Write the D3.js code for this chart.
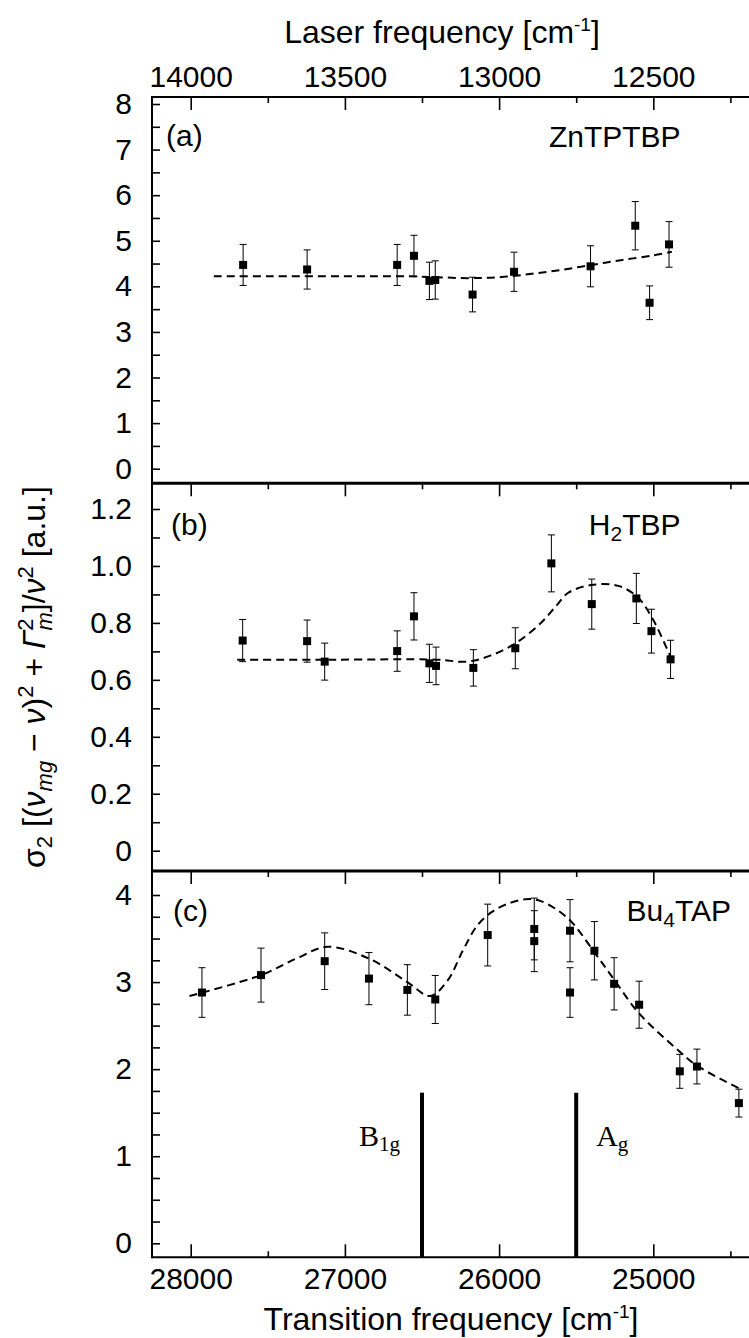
<!DOCTYPE html>
<html><head><meta charset="utf-8">
<script src="https://cdn.jsdelivr.net/npm/d3@7"></script>
<style>html,body{margin:0;padding:0;background:#fff}svg{display:block}</style>
</head><body>
<script>
// ---------------- data ----------------
const transTicks = [28000, 27000, 26000, 25000];
const transMinor = [27500, 26500, 25500, 24500];
const laserTicks = [14000, 13500, 13000, 12500];

// panel (a) ZnTPTBP
const aFreq = [27660, 27245, 26661, 26552, 26452, 26414, 26172, 25903, 25407, 25117, 25024, 24898];
const aVal  = [4.47, 4.37, 4.47, 4.67, 4.12, 4.14, 3.82, 4.32, 4.44, 5.33, 3.64, 4.92];
const aErr  = [0.45, 0.43, 0.45, 0.45, 0.41, 0.42, 0.38, 0.43, 0.45, 0.53, 0.37, 0.50];
const aFitFreq = [27850, 27500, 27000, 26600, 26400, 26200, 26000, 25800, 25600, 25400, 25200, 25000, 24880];
const aFitVal  = [4.22, 4.22, 4.22, 4.22, 4.20, 4.18, 4.20, 4.27, 4.36, 4.47, 4.58, 4.68, 4.76];
const aTicks = [0, 1, 2, 3, 4, 5, 6, 7, 8];
const aMinor = [0.5, 1.5, 2.5, 3.5, 4.5, 5.5, 6.5, 7.5];

// panel (b) H2TBP
const bFreq = [27663, 27245, 27131, 26661, 26552, 26452, 26409, 26167, 25895, 25661, 25399, 25110, 25012, 24888];
const bVal  = [0.738, 0.736, 0.664, 0.701, 0.823, 0.658, 0.649, 0.642, 0.711, 1.009, 0.866, 0.886, 0.771, 0.672];
const bErr  = [0.074, 0.074, 0.065, 0.071, 0.083, 0.067, 0.066, 0.064, 0.072, 0.100, 0.088, 0.088, 0.077, 0.067];
const bFitFreq = [27698, 27064, 26409, 26207, 26057, 25895, 25729, 25629, 25554, 25403, 25227, 25101, 25000, 24888];
const bFitVal  = [0.671, 0.671, 0.671, 0.664, 0.685, 0.728, 0.800, 0.860, 0.905, 0.933, 0.930, 0.890, 0.810, 0.680];
const bTicks = [0, 0.2, 0.4, 0.6, 0.8, 1.0, 1.2];
const bMinor = [0.1, 0.3, 0.5, 0.7, 0.9, 1.1];

// panel (c) Bu4TAP
const cFreq = [27927, 27544, 27131, 26844, 26595, 26414, 26074, 25772, 25772, 25540, 25540, 25382, 25254, 25092, 24828, 24717, 24445];
const cVal  = [2.88, 3.08, 3.24, 3.04, 2.91, 2.80, 3.54, 3.61, 3.47, 3.59, 2.88, 3.36, 2.98, 2.74, 1.975, 2.03, 1.61];
const cErr  = [0.285, 0.31, 0.325, 0.30, 0.29, 0.276, 0.355, 0.355, 0.35, 0.357, 0.285, 0.335, 0.30, 0.27, 0.195, 0.20, 0.16];
const cFitFreq = [28008, 27544, 27315, 27114, 26844, 26595, 26447, 26333, 26233, 26132, 26006, 25830, 25729, 25553, 25377, 25251, 25092, 24828, 24717, 24445];
const cFitVal  = [2.84, 3.08, 3.27, 3.405, 3.27, 3.00, 2.84, 3.02, 3.37, 3.67, 3.85, 3.95, 3.93, 3.73, 3.33, 3.02, 2.64, 2.20, 2.04, 1.78];
const cTicks = [0, 1, 2, 3, 4];
const cMinor = [0.25, 0.5, 0.75, 1.25, 1.5, 1.75, 2.25, 2.5, 2.75, 3.25, 3.5, 3.75];

// vibronic mode positions (panel c)
const modeFreq = [26500, 25500];
const modeHeight = [1.73, 1.73];
const modeName = ["B", "A"];
const modeSub = ["1g", "g"];

// ---------------- layout ----------------
const W = 749, H = 1338;
const L = 152, R = 749;
const FONT = "'Liberation Sans', Arial, sans-serif";
const svg = d3.select("body").append("svg").attr("width", W).attr("height", H)
  .style("font-family", FONT);

const x = d3.scaleLinear().domain([28000, 25000]).range([190.7, 653.3]);
const xLaser = d3.scaleLinear().domain([14000, 12500]).range([190.7, 653.3]);

const panels = [
  {top: 97, bottom: 483.3, y: d3.scaleLinear().domain([0, 8]).range([468.7, 104]),
   ticks: aTicks, minor: aMinor, fmt: d3.format("d"),
   freq: aFreq, val: aVal, err: aErr, fitF: aFitFreq, fitV: aFitVal,
   tag: "(a)", tagX: 166, tagV: 7.08, name: ["ZnTPTBP", ""], nameF: 24823, nameV: 7.05},
  {top: 483.3, bottom: 871, y: d3.scaleLinear().domain([0, 1.2]).range([850.7, 509]),
   ticks: bTicks, minor: bMinor, fmt: d => d === 0 ? "0" : d3.format(".1f")(d),
   freq: bFreq, val: bVal, err: bErr, fitF: bFitFreq, fitV: bFitVal,
   tag: "(b)", tagX: 171, tagV: 1.108, name: ["H", "2", "TBP"], nameF: 24823, nameV: 1.11},
  {top: 871, bottom: 1257.3, y: d3.scaleLinear().domain([0, 4]).range([1243.3, 895]),
   ticks: cTicks, minor: cMinor, fmt: d3.format("d"),
   freq: cFreq, val: cVal, err: cErr, fitF: cFitFreq, fitV: cFitVal,
   tag: "(c)", tagX: 173, tagV: 3.70, name: ["Bu", "4", "TAP"], nameF: 24496, nameV: 3.70}
];

function styleAxis(g) {
  g.select(".domain").remove();
  g.selectAll(".tick line").attr("stroke", "#000").attr("stroke-width", 1.6);
  g.selectAll(".tick text").attr("fill", "#000").style("font-family", FONT).style("font-size", "30px");
}

panels.forEach((p, i) => {
  // x ticks at panel top (pointing down)
  const gt = svg.append("g").attr("transform", `translate(0,${p.top})`);
  if (i === 0) {
    gt.call(d3.axisTop(xLaser).tickValues(laserTicks).tickSizeInner(-13).tickSizeOuter(0)
      .tickPadding(10).tickFormat(d3.format("d"))).call(styleAxis);
  } else {
    gt.call(d3.axisTop(x).tickValues(transTicks).tickSizeInner(-13).tickSizeOuter(0)
      .tickFormat("")).call(styleAxis);
  }
  svg.append("g").attr("transform", `translate(0,${p.top})`)
    .call(d3.axisTop(x).tickValues(transMinor).tickSizeInner(-6).tickSizeOuter(0).tickFormat(""))
    .call(styleAxis);

  // y axis (ticks inward)
  svg.append("g").attr("transform", `translate(${L},0)`)
    .call(d3.axisLeft(p.y).tickValues(p.ticks).tickSizeInner(-8).tickSizeOuter(0)
      .tickPadding(20).tickFormat(p.fmt)).call(styleAxis);
  svg.append("g").attr("transform", `translate(${L},0)`)
    .call(d3.axisLeft(p.y).tickValues(p.minor).tickSizeInner(-8).tickSizeOuter(0).tickFormat(""))
    .call(styleAxis);

  // fit curve
  const line = d3.line().x((d) => x(d[0])).y((d) => p.y(d[1])).curve(d3.curveCatmullRom.alpha(0.5));
  svg.append("path").datum(p.fitF.map((f, k) => [f, p.fitV[k]]))
    .attr("d", line).attr("fill", "none").attr("stroke", "#000")
    .attr("stroke-width", 2).attr("stroke-dasharray", "8,5");

  // error bars
  const pts = p.freq.map((f, k) => ({f, v: p.val[k], e: p.err[k]}));
  const eb = svg.append("g").attr("stroke", "#000").attr("stroke-width", 1);
  eb.selectAll("line.v").data(pts).join("line").attr("class", "v")
    .attr("x1", d => x(d.f)).attr("x2", d => x(d.f))
    .attr("y1", d => p.y(d.v - d.e)).attr("y2", d => p.y(d.v + d.e));
  eb.selectAll("line.t").data(pts).join("line").attr("class", "t")
    .attr("x1", d => x(d.f) - 3.5).attr("x2", d => x(d.f) + 3.5)
    .attr("y1", d => p.y(d.v + d.e)).attr("y2", d => p.y(d.v + d.e));
  eb.selectAll("line.b").data(pts).join("line").attr("class", "b")
    .attr("x1", d => x(d.f) - 3.5).attr("x2", d => x(d.f) + 3.5)
    .attr("y1", d => p.y(d.v - d.e)).attr("y2", d => p.y(d.v - d.e));
  // markers
  svg.append("g").selectAll("rect").data(pts).join("rect")
    .attr("x", d => x(d.f) - 4).attr("y", d => p.y(d.v) - 4)
    .attr("width", 8).attr("height", 8).attr("fill", "#000");

  // tag
  svg.append("text").attr("x", p.tagX).attr("y", p.y(p.tagV))
    .style("font-size", "30px").text(p.tag);
  // name
  const nt = svg.append("text").attr("x", x(p.nameF)).attr("y", p.y(p.nameV))
    .attr("text-anchor", "end").style("font-size", "30px");
  if (p.name.length === 2) nt.text(p.name[0]);
  else {
    nt.append("tspan").text(p.name[0]);
    nt.append("tspan").attr("dy", 6).style("font-size", "21px").text(p.name[1]);
    nt.append("tspan").attr("dy", -6).text(p.name[2]);
  }
});

// mode lines in panel (c)
const pc = panels[2];
modeFreq.forEach((f, k) => {
  svg.append("line").attr("x1", x(f)).attr("x2", x(f))
    .attr("y1", 1257.3).attr("y2", pc.y(modeHeight[k]))
    .attr("stroke", "#000").attr("stroke-width", 4);
  const t = svg.append("text").attr("y", pc.y(1.12))
    .style("font-family", "'Liberation Serif', 'Times New Roman', serif").style("font-size", "30px");
  if (k === 0) t.attr("x", x(f) - 22).attr("text-anchor", "end");
  else t.attr("x", x(f) + 20).attr("text-anchor", "start");
  t.append("tspan").text(modeName[k]);
  t.append("tspan").attr("dy", 5).style("font-size", "21px").text(modeSub[k]);
});

// frame
const frame = svg.append("g").attr("stroke", "#000").attr("fill", "none");
frame.append("line").attr("x1", L).attr("x2", L).attr("y1", 96).attr("y2", 1258.3).attr("stroke-width", 2);
frame.append("line").attr("x1", L).attr("x2", R).attr("y1", 97).attr("y2", 97).attr("stroke-width", 2);
frame.append("line").attr("x1", L).attr("x2", R).attr("y1", 483.3).attr("y2", 483.3).attr("stroke-width", 3);
frame.append("line").attr("x1", L).attr("x2", R).attr("y1", 871).attr("y2", 871).attr("stroke-width", 3);
frame.append("line").attr("x1", L).attr("x2", R).attr("y1", 1257.3).attr("y2", 1257.3).attr("stroke-width", 2);

// bottom axis
svg.append("g").attr("transform", "translate(0,1257.3)")
  .call(d3.axisBottom(x).tickValues(transTicks).tickSizeInner(-13).tickSizeOuter(0)
    .tickPadding(10).tickFormat(d3.format("d"))).call(styleAxis);
svg.append("g").attr("transform", "translate(0,1257.3)")
  .call(d3.axisBottom(x).tickValues(transMinor).tickSizeInner(-6).tickSizeOuter(0).tickFormat(""))
  .call(styleAxis);

// axis titles
function unitTitle(xPos, yPos, label, fs) {
  const t = svg.append("text").attr("x", xPos).attr("y", yPos).attr("text-anchor", "middle")
    .style("font-size", fs + "px");
  t.append("tspan").text(label + " [cm");
  t.append("tspan").attr("dy", -12).style("font-size", "19px").text("-1");
  t.append("tspan").attr("dy", 12).text("]");
}
unitTitle(442, 43, "Laser frequency", 32);
unitTitle(451, 1330, "Transition frequency", 32);

// y title
const yt = svg.append("text").attr("transform", "translate(45,677) rotate(-90)")
  .attr("text-anchor", "middle").style("font-size", "32px");
const parts = [
  ["σ", 0, 32, false], ["2", 7, 22, false], [" [(", -7, 32, false],
  ["ν", 0, 32, true], ["mg", 7, 22, true], [" − ", -7, 32, false], ["ν", 0, 32, true],
  [")", 0, 32, false], ["2", -12, 22, false], [" + ", 12, 32, false],
  ["Γ", 0, 32, true], ["2", -12, 22, false], ["m", 19, 22, true, -12], ["]/", -7, 32, false],
  ["ν", 0, 32, true], ["2", -12, 22, false], [" [a.u.]", 12, 32, false]
];
parts.forEach(([s, dy, fs, it, dx]) => {
  const ts = yt.append("tspan").attr("dy", dy).style("font-size", fs + "px").text(s);
  if (it) ts.style("font-style", "italic");
  if (dx) ts.attr("dx", dx);
});
</script>
</body></html>
